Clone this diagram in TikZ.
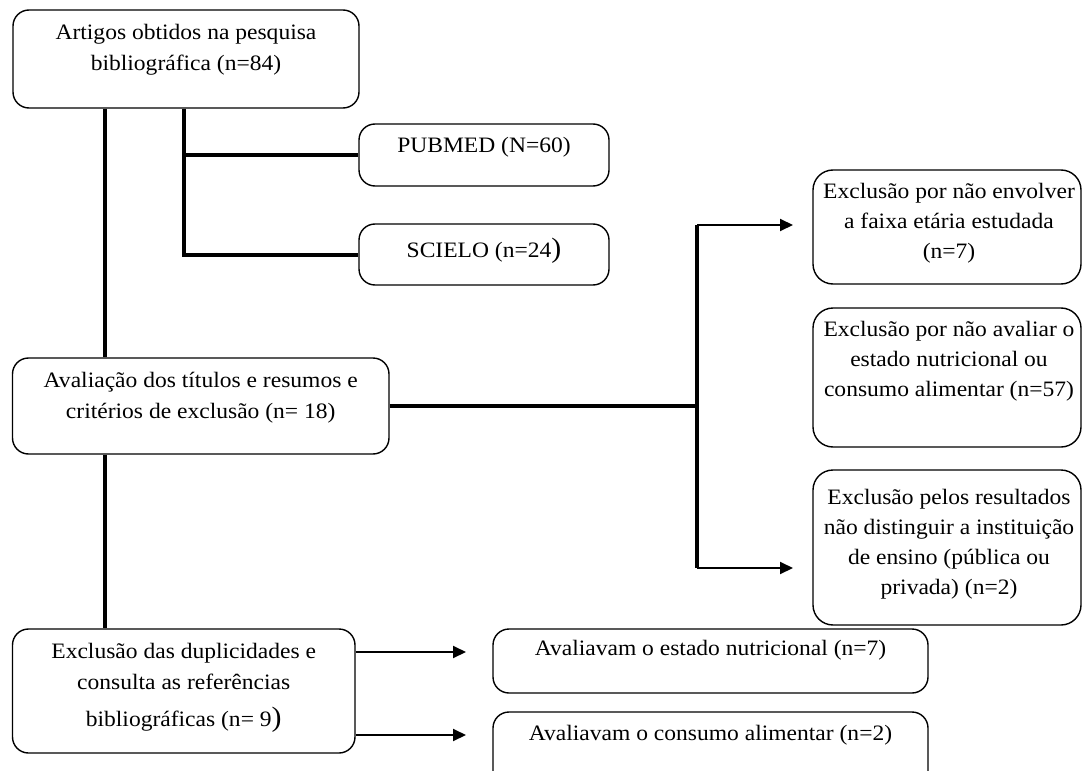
\documentclass[tikz,border=0pt]{standalone}
\usepackage{fontspec}
\setmainfont[FakeStretch=1.07]{Liberation Serif}
\usetikzlibrary{arrows.meta,calc}
\newcommand{\bigparen}{{\fontsize{14}{15}\selectfont )}}
\begin{document}
\begin{tikzpicture}[x=0.5pt,y=-0.5pt,
  box/.style={draw, line width=0.7pt, rounded corners=8pt, inner sep=0pt},
  rbox/.style={box, rounded corners=10pt},
  txt/.style={anchor=north, align=center, inner sep=0pt, font=\fontsize{11}{15.5}\selectfont},
  rtxt/.style={txt, font=\fontsize{11}{15}\selectfont},
  link/.style={line width=2pt},
  arr/.style={line width=1pt, -{Triangle[length=6.5pt,width=6pt]}},
]
\useasboundingbox (0,0) rectangle (1083,771);

% boxes
\node[box, minimum width=173pt, minimum height=49pt] (b1) at (186,59) {};
\node[box, minimum width=125pt, minimum height=31pt] (bpub) at (484,155) {};
\node[box, minimum width=125pt, minimum height=30.5pt] (bsc) at (484,254.5) {};
\node[box, minimum width=188.25pt, minimum height=48pt] (bav) at (200.75,406) {};
\node[box, minimum width=171.25pt, minimum height=62pt] (bdup) at (183.75,691) {};
\node[rbox, minimum width=134pt, minimum height=57pt] (bA) at (947,227) {};
\node[rbox, minimum width=134pt, minimum height=69.5pt] (bB) at (947,377.5) {};
\node[rbox, minimum width=134pt, minimum height=77.5pt] (bC) at (947,547.5) {};
\node[box, minimum width=217.5pt, minimum height=32pt] (bE) at (710.5,661) {};
\node[box, minimum width=217.5pt, minimum height=39pt] (bF) at (710.5,751) {};

% texts
\node[txt] (t1) at (186,17.3) {\strut Artigos obtidos na pesquisa\\ bibliográfica (n=84)};
\node[txt] (tpub) at (484,130.3) {\strut PUBMED (N=60)};
\node[txt] (tsc) at (484,235.3) {\strut SCIELO (n=24\bigparen};
\node[txt] (tav) at (200.75,365.3) {\strut Avaliação dos títulos e resumos e\\ critérios de exclusão (n= 18)};
\node[txt] (tdup) at (183.75,636.3) {\strut Exclusão das duplicidades e\\ consulta as referências\\[3pt] bibliográficas (n= 9\bigparen};
\node[rtxt] (tA) at (949,177) {\strut Exclusão por não envolver\\ a faixa etária estudada\\ (n=7)};
\node[rtxt] (tB) at (949,315) {\strut Exclusão por não avaliar o\\ estado nutricional ou\\ consumo alimentar (n=57)};
\node[rtxt] (tC) at (949,483) {\strut Exclusão pelos resultados\\ não distinguir a instituição\\ de ensino (pública ou\\ privada) (n=2)};
\node[txt] (tE) at (710.5,633) {\strut Avaliavam o estado nutricional (n=7)};
\node[txt] (tF) at (710.5,718) {\strut Avaliavam o consumo alimentar (n=2)};

% helper coordinates
\coordinate (xL) at (105,0);
\coordinate (xM) at (184,0);
\coordinate (xR) at (697,0);
\coordinate (jTop) at (697,225);
\coordinate (jBot) at (697,568);
\coordinate (tipA) at (793,225);
\coordinate (tipC) at (793,568);
\coordinate (tipE) at (466,652);
\coordinate (tipF) at (466,735);

% connectors
\draw[link] (b1.south -| xL) -- (bav.north -| xL);
\draw[link] (bav.south -| xL) -- (bdup.north -| xL);
\draw[link] (b1.south -| xM) |- (bsc.west);
\draw[link] (xM |- bpub.west) -- (bpub.west);
\draw[link] (bav.east) -- (bav.east -| xR);
\draw[link] (jTop) -- (jBot);
\draw[arr] (jTop) -- (tipA);
\draw[arr] (jBot) -- (tipC);
\draw[arr] (bdup.east |- tipE) -- (tipE);
\draw[arr] (bdup.east |- tipF) -- (tipF);
\end{tikzpicture}
\end{document}
